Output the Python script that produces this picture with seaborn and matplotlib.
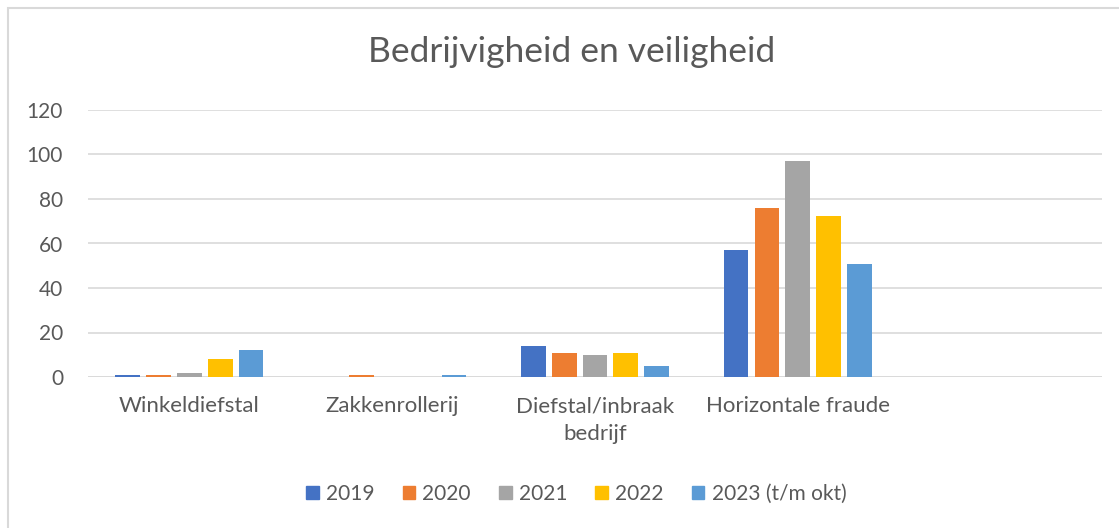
import matplotlib.pyplot as plt
import matplotlib.patches as mpatches
import seaborn as sns
import pandas as pd

# Data
categories = ["Winkeldiefstal", "Zakkenrollerij", "Diefstal/inbraak\nbedrijf", "Horizontale fraude"]
years = ["2019", "2020", "2021", "2022", "2023 (t/m okt)"]
v2019 = [1, 0, 14, 57]
v2020 = [1, 1, 11, 76]
v2021 = [2, 0, 10, 97]
v2022 = [8, 0, 11, 72.5]
v2023 = [12, 1, 5, 51]
colors = ["#4472C4", "#ED7D31", "#A5A5A5", "#FFC000", "#5B9BD5"]

rows = []
for year, vals in zip(years, [v2019, v2020, v2021, v2022, v2023]):
    for cat, v in zip(categories, vals):
        rows.append({"categorie": cat, "jaar": year, "aantal": v})
df = pd.DataFrame(rows)

sns.set_style("white")
plt.rcParams["font.family"] = ["Lato", "DejaVu Sans"]

fig = plt.figure(figsize=(11.19, 5.28), dpi=100)
ax = fig.add_axes([88 / 1119, 1 - 377 / 528, (1102 - 88) / 1119, (377 - 110) / 528])

sns.barplot(data=df, x="categorie", y="aantal", hue="jaar", order=categories,
            hue_order=years, palette=colors, saturation=1, width=0.76, gap=0.2,
            linewidth=0, ax=ax, zorder=3)

ax.set_xlim(-0.5, 4.5)
ax.set_ylim(0, 120)
ax.set_yticks(range(0, 121, 20))
ax.grid(axis="y", color="#D9D9D9", linewidth=1.2, zorder=0)
for s in ["top", "right", "left", "bottom"]:
    ax.spines[s].set_visible(False)
ax.axhline(0, color="#D9D9D9", linewidth=1.2, zorder=2)
ax.tick_params(axis="both", length=0, colors="#595959")
ax.tick_params(axis="y", pad=18, labelsize=15)
ax.tick_params(axis="x", pad=14, labelsize=16)
ax.set_xticks(range(len(categories)))
ax.set_xticklabels(categories, linespacing=1.45)
ax.set_xlabel("")
ax.set_ylabel("")

fig.text(0.511, 1 - 52 / 528, "Bedrijvigheid en veiligheid", ha="center", va="center",
         fontsize=25.5, color="#595959")

handles = [mpatches.Patch(color=c, label=y) for c, y in zip(colors, years)]
ax.legend_.remove()
fig.legend(handles=handles, loc="center", bbox_to_anchor=(0.515, 1 - 494 / 528), ncol=5,
           frameon=False, fontsize=15, handlelength=0.6, handleheight=0.6,
           handletextpad=0.35, columnspacing=1.35, labelcolor="#595959")

# chart area border
fig.patches.append(mpatches.Rectangle((8 / 1119, -0.1), 1.2, 1.1 - 8 / 528,
                                      transform=fig.transFigure, fill=False,
                                      edgecolor="#D9D9D9", linewidth=1.5))

fig.savefig("out.png", dpi=100)
